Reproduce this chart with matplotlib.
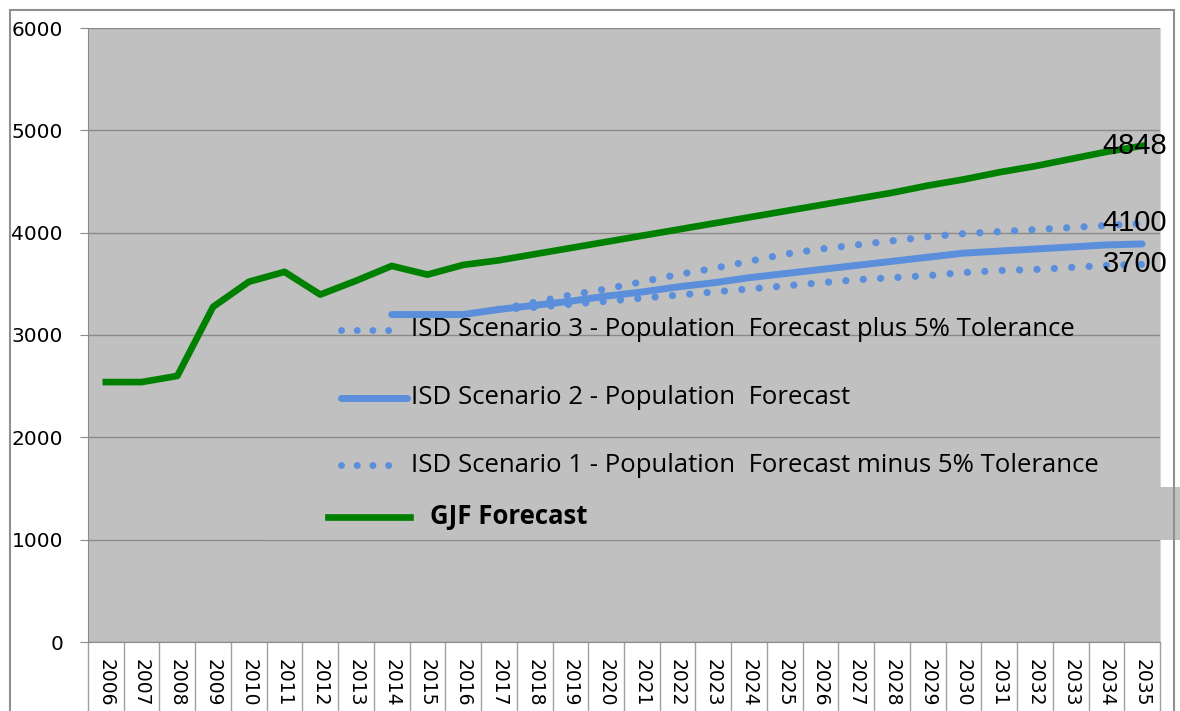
import numpy as np
import matplotlib.pyplot as plt
from matplotlib.patches import Rectangle
from matplotlib.lines import Line2D

years = [str(y) for y in range(2006, 2036)]

gjf = [2540, 2540, 2600, 3275, 3520, 3617, 3395, 3530, 3675, 3590,
       3685, 3730, 3790, 3850, 3910, 3970, 4030, 4090, 4150, 4210,
       4270, 4330, 4390, 4460, 4520, 4590, 4650, 4720, 4790, 4848]

# scenarios start in 2014 / 2017 (None = no value)
scen2 = [None] * 8 + [3200, 3200, 3200, 3250, 3290, 3330, 3380, 3420,
                      3470, 3510, 3560, 3600, 3640, 3680, 3720, 3760,
                      3800, 3820, 3840, 3860, 3880, 3890]
scen3 = [None] * 11 + [3250, 3320, 3390, 3450, 3520, 3590, 3650, 3720,
                       3790, 3840, 3880, 3920, 3960, 3990, 4010, 4030,
                       4050, 4070, 4090]
scen1 = [None] * 11 + [3250, 3270, 3300, 3330, 3360, 3390, 3420, 3450,
                       3480, 3510, 3540, 3560, 3580, 3610, 3630, 3640,
                       3660, 3680, 3690]

labels_end = ['4848', '4100', '3700']

green = '#008000'
blue = '#5b8fdc'
W, H = 1180, 711

fig = plt.figure(figsize=(11.8, 7.11), dpi=100)
fig.patch.set_facecolor('white')

ax = fig.add_axes([88 / W, 1 - 642 / H, (1160 - 88) / W, (642 - 28) / H])
ax.set_facecolor('#c0c0c0')

x = np.arange(len(years))


def arr(v):
    return np.array([np.nan if a is None else a for a in v], dtype=float)


ax.plot(x, arr(gjf), color=green, lw=4.8, solid_joinstyle='round', zorder=5)
ax.plot(x, arr(scen2), color=blue, lw=5, solid_capstyle='round', zorder=4)
ax.plot(x, arr(scen3), color=blue, lw=5.2, ls=(0, (0.01, 2.4)),
        dash_capstyle='round', zorder=4)
ax.plot(x, arr(scen1), color=blue, lw=5.2, ls=(0, (0.01, 2.4)),
        dash_capstyle='round', zorder=4)

ax.set_xlim(-0.5, len(years) - 0.5)
ax.set_ylim(0, 6000)
ax.set_yticks(np.arange(0, 6001, 1000))
ax.yaxis.grid(True, color='#8a8a8a', lw=1)
ax.set_axisbelow(True)

ax.set_xticks(x)
ax.set_xticklabels(years, rotation=-90, fontsize=13.5, family='DejaVu Sans')
ax.tick_params(axis='x', length=0, pad=12)
ax.set_xticks(np.arange(-0.5, len(years), 1), minor=True)
ax.tick_params(axis='x', which='minor', length=52, color='#a0a0a0', width=1)
ax.tick_params(axis='y', length=6, color='#8a8a8a', labelsize=14.5, pad=12)
for t in ax.get_yticklabels():
    t.set_family('DejaVu Sans')

ax.spines['top'].set_visible(False)
ax.spines['left'].set_color('#8a8a8a')
ax.spines['bottom'].set_color('#8a8a8a')
ax.spines['right'].set_color('#d8d8d8')

# end labels
last = len(years) - 1
for val, lab in zip([gjf[-1], scen3[-1], scen1[-1]], labels_end):
    ax.text(last - 0.2, val, lab, ha='center', va='center', fontsize=21,
            family='Liberation Sans', zorder=6)

# odd legend box background
fig.patches.append(Rectangle((265 / W, 1 - 540 / H), (1180 - 265) / W, 53 / H,
                             transform=fig.transFigure, facecolor='#c0c0c0',
                             edgecolor='none', zorder=3))
# outer frame
fig.patches.append(Rectangle((10 / W, -0.01), (1174 - 10) / W, 1 - 10 / H + 0.01,
                             transform=fig.transFigure, facecolor='none',
                             edgecolor='#909090', lw=1.5, zorder=10))

# legend entries
leg = [
    ('dot', 330, 'ISD Scenario 3 - Population  Forecast plus 5% Tolerance'),
    ('solid', 398, 'ISD Scenario 2 - Population  Forecast'),
    ('dot', 465, 'ISD Scenario 1 - Population  Forecast minus 5% Tolerance'),
    ('green', 517, 'GJF Forecast'),
]
for kind, py, txt in leg:
    yf = 1 - py / H
    if kind == 'dot':
        fig.add_artist(Line2D([341 / W, 392 / W], [yf, yf], color=blue, lw=5,
                              ls=(0, (0.01, 2.25)), dash_capstyle='round',
                              zorder=7))
        fig.text(411 / W, yf, txt, fontsize=18.5, family='Open Sans',
                 va='center', zorder=7)
    elif kind == 'solid':
        fig.add_artist(Line2D([341 / W, 407 / W], [yf, yf], color=blue, lw=5,
                              solid_capstyle='round', zorder=7))
        fig.text(411 / W, yf, txt, fontsize=18.5, family='Open Sans',
                 va='center', zorder=7)
    else:
        fig.add_artist(Line2D([328 / W, 410 / W], [yf, yf], color=green, lw=4.8,
                              zorder=7))
        fig.text(430 / W, yf, txt, fontsize=18.5, family='Open Sans',
                 fontweight='bold', va='center', zorder=7)

fig.savefig('out.png', dpi=100)
